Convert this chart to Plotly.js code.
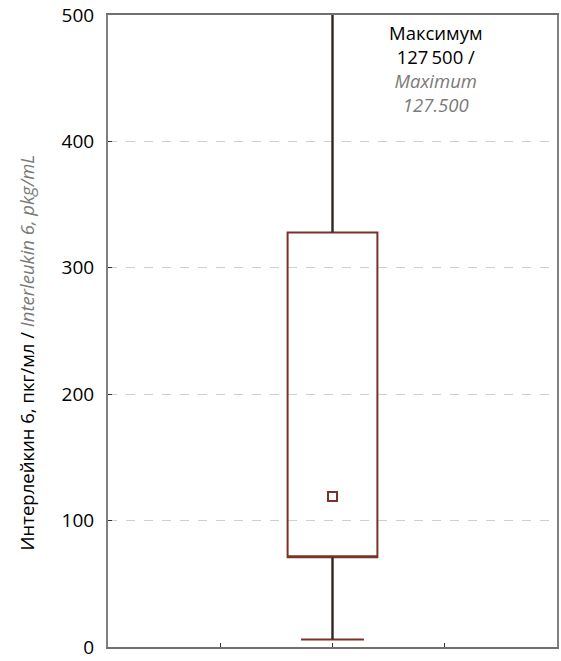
<!DOCTYPE html>
<html>
<head>
<meta charset="utf-8">
<script src="https://cdn.plot.ly/plotly-3.0.1.min.js"></script>
<style>html,body{margin:0;padding:0;background:#fff;}</style>
</head>
<body>
<div id="chart" style="width:561px;height:661px;"></div>
<script>
// Data (IL-6, pkg/mL)
const groupX = [0];
const q1Values = [71];
const q3Values = [328];
const medianValues = [119];
const minValues = [6];
const maxValues = [127500];
const yTicks = [0, 100, 200, 300, 400, 500];
const xTicks = [-1.25, 0, 1.25];
const yTitle = 'Интерлейкин 6, пкг/мл / <i><span style="color:#7a7a7a">Interleukin 6, pkg/mL</span></i>';
const maxNote = 'Максимум<br>127\u2009500 /<br><i><span style="color:#7a7a7a">Maximum<br>127.500</span></i>';

const boxColor = '#7a3328';
const whiskerColor = '#2a2a2a';

const traces = [
  {
    type: 'box',
    x: groupX,
    q1: q1Values,
    median: q1Values, // median shown as square marker (Statistica style), line hidden on box edge
    q3: q3Values,
    lowerfence: minValues,
    upperfence: maxValues,
    width: 1,
    whiskerwidth: 0.7,
    fillcolor: 'rgba(255,255,255,0)',
    line: {color: boxColor, width: 2},
    boxpoints: false,
    hoverinfo: 'skip',
    showlegend: false
  },
  {
    type: 'scatter', mode: 'lines',
    x: [groupX[0], groupX[0]], y: [q3Values[0], maxValues[0]],
    line: {color: whiskerColor, width: 2}, hoverinfo: 'skip', showlegend: false
  },
  {
    type: 'scatter', mode: 'lines',
    x: [groupX[0], groupX[0]], y: [minValues[0], q1Values[0]],
    line: {color: whiskerColor, width: 2}, hoverinfo: 'skip', showlegend: false
  },
  {
    type: 'scatter', mode: 'markers',
    x: groupX, y: medianValues,
    marker: {symbol: 'square-open', size: 9, color: boxColor, line: {width: 2, color: boxColor}},
    hoverinfo: 'skip', showlegend: false
  }
];

const layout = {
  width: 561, height: 661,
  margin: {l: 108, r: 4, t: 15, b: 14},
  paper_bgcolor: '#fff', plot_bgcolor: '#fff',
  font: {family: 'Open Sans, sans-serif', color: '#000'},
  showlegend: false,
  xaxis: {
    range: [-2.5, 2.5],
    tickvals: xTicks, ticktext: ['', '', ''],
    ticks: 'inside', ticklen: 4, tickcolor: '#333',
    showgrid: false, zeroline: false,
    showline: true, linecolor: '#707070', linewidth: 2, mirror: true
  },
  yaxis: {
    range: [0, 500],
    tickvals: yTicks,
    ticks: 'inside', ticklen: 4, tickcolor: '#333',
    tickfont: {size: 19, color: '#000'},
    ticklabelstandoff: 8,
    ticklabeloverflow: 'allow',
    showgrid: true, gridcolor: '#cfcfcf', griddash: 'dash', gridwidth: 1,
    zeroline: false,
    showline: true, linecolor: '#808080', linewidth: 2, mirror: true
  },
  annotations: [
    {
      xref: 'paper', yref: 'paper', x: 0.7316, y: 0.996,
      xanchor: 'center', yanchor: 'top', align: 'center', showarrow: false,
      text: maxNote,
      font: {size: 18.5, color: '#000'}
    },
    {
      xref: 'paper', yref: 'paper', x: -0.1826, y: 0.466,
      xanchor: 'center', yanchor: 'middle', textangle: -90, showarrow: false,
      text: yTitle,
      font: {size: 18.5, color: '#000'}
    }
  ]
};

Plotly.newPlot('chart', traces, layout, {displayModeBar: false, staticPlot: true});
</script>
</body>
</html>
